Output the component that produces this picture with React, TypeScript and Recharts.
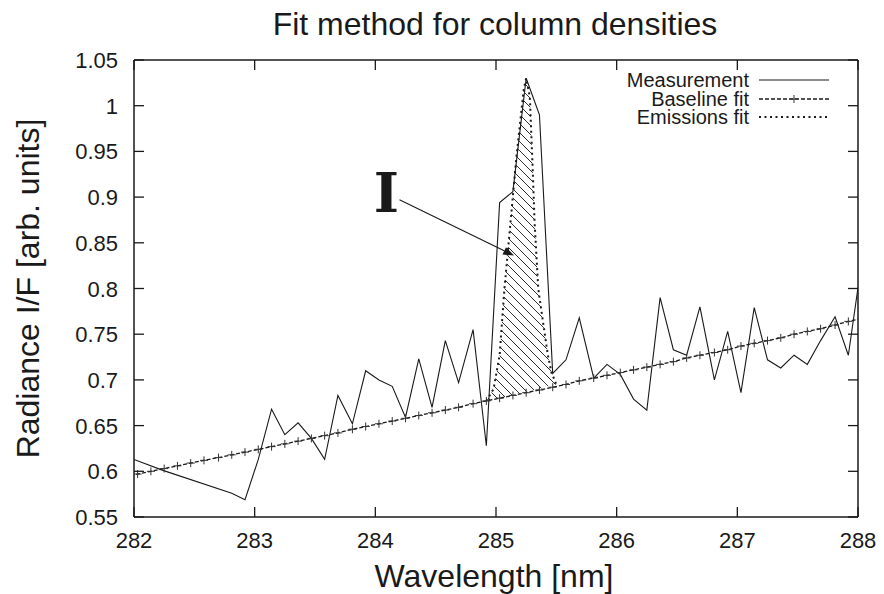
import { ComposedChart, Line, Area, XAxis, YAxis, Legend, ReferenceLine } from 'recharts'

const FONT = '"Liberation Sans", Arial, Helvetica, sans-serif'
const INK = '#1a1a1a'

const X_TICKS = [282, 283, 284, 285, 286, 287, 288]
const Y_TICKS = [0.55, 0.6, 0.65, 0.7, 0.75, 0.8, 0.85, 0.9, 0.95, 1, 1.05]

// measured spectrum
const MEAS_X = [
  282.0, 282.24, 282.81, 282.92, 283.03, 283.14, 283.25, 283.36, 283.47, 283.58,
  283.69, 283.81, 283.92, 284.03, 284.14, 284.25, 284.36, 284.47, 284.58, 284.69,
  284.81, 284.92, 285.03, 285.14, 285.25, 285.36, 285.47, 285.58, 285.69, 285.81,
  285.92, 286.03, 286.14, 286.25, 286.36, 286.47, 286.58, 286.69, 286.81, 286.92,
  287.03, 287.14, 287.25, 287.36, 287.47, 287.58, 287.69, 287.81, 287.92, 288.0,
]
const MEAS_Y = [
  0.613, 0.601, 0.576, 0.569, 0.613, 0.668, 0.64, 0.653, 0.636, 0.613,
  0.683, 0.652, 0.71, 0.7, 0.693, 0.659, 0.723, 0.67, 0.743, 0.697,
  0.755, 0.628, 0.894, 0.906, 1.03, 0.99, 0.707, 0.722, 0.768, 0.702,
  0.717, 0.706, 0.679, 0.667, 0.79, 0.733, 0.727, 0.78, 0.7, 0.753,
  0.686, 0.779, 0.722, 0.713, 0.727, 0.717, 0.743, 0.769, 0.727, 0.801,
]

// baseline fit, one marker per sample
const BASE_X = [
  281.92, 282.03, 282.14, 282.25, 282.36, 282.47, 282.58, 282.7, 282.81, 282.92,
  283.03, 283.14, 283.25, 283.36, 283.47, 283.58, 283.69, 283.81, 283.92, 284.03,
  284.14, 284.25, 284.36, 284.47, 284.58, 284.69, 284.81, 284.92, 285.03, 285.14,
  285.25, 285.36, 285.47, 285.58, 285.69, 285.81, 285.92, 286.03, 286.14, 286.25,
  286.36, 286.47, 286.58, 286.69, 286.81, 286.92, 287.03, 287.14, 287.25, 287.36,
  287.47, 287.58, 287.69, 287.81, 287.92, 288.03,
]
const BASE_Y = [
  0.594, 0.597, 0.6, 0.603, 0.606, 0.609, 0.612, 0.615, 0.618, 0.621,
  0.624, 0.627, 0.63, 0.633, 0.636, 0.639, 0.642, 0.646, 0.649, 0.652,
  0.655, 0.658, 0.661, 0.664, 0.667, 0.67, 0.674, 0.677, 0.68, 0.683,
  0.686, 0.689, 0.692, 0.695, 0.699, 0.702, 0.705, 0.708, 0.711, 0.714,
  0.717, 0.72, 0.724, 0.727, 0.73, 0.733, 0.737, 0.74, 0.743, 0.746,
  0.75, 0.753, 0.756, 0.76, 0.764, 0.767,
]

// emission peak fit and the baseline beneath it
const EMIS_X = [284.92, 284.98, 285.03, 285.07, 285.12, 285.17, 285.23, 285.25, 285.28, 285.3, 285.32, 285.35, 285.39, 285.43, 285.46, 285.5]
const EMIS_Y = [0.677, 0.69, 0.727, 0.8, 0.872, 0.945, 1.018, 1.03, 1.01, 0.945, 0.872, 0.8, 0.763, 0.727, 0.708, 0.695]
const EMIS_BASE = [0.677, 0.679, 0.68, 0.681, 0.683, 0.684, 0.686, 0.687, 0.688, 0.688, 0.689, 0.69, 0.691, 0.693, 0.694, 0.695]

const SERIES_NAMES = ['Measurement', 'Baseline fit', 'Emissions fit']
const ARROW_FROM = { x: 284.2, y: 0.897 }
const ARROW_TO = { x: 285.15, y: 0.836 }
const ARROW_LABEL = 'I'

const measurement = MEAS_X.map((x, i) => ({ x, y: MEAS_Y[i] }))
const baseline = BASE_X.map((x, i) => ({ x, y: BASE_Y[i] }))
const emissions = EMIS_X.map((x, i) => ({ x, y: EMIS_Y[i], band: [EMIS_BASE[i], EMIS_Y[i]] }))

const fmt = (v: number) => String(+v.toFixed(2))

function BottomTick({ x, y, payload }: any) {
  return (
    <g>
      <line x1={x} x2={x} y1={y} y2={y - 10} stroke={INK} strokeWidth={1.3} />
      <text x={x} y={y + 31} textAnchor="middle" fontSize={22} fontFamily={FONT} fill={INK}>{payload.value}</text>
    </g>
  )
}

function TopTick({ x, y }: any) {
  return <line x1={x} x2={x} y1={y} y2={y + 10} stroke={INK} strokeWidth={1.3} />
}

function LeftTick({ x, y, payload }: any) {
  return (
    <g>
      <line x1={x} x2={x + 10} y1={y} y2={y} stroke={INK} strokeWidth={1.3} />
      <text x={x - 16} y={y + 8} textAnchor="end" fontSize={22} fontFamily={FONT} fill={INK}>{fmt(payload.value)}</text>
    </g>
  )
}

function RightTick({ x, y }: any) {
  return <line x1={x} x2={x - 10} y1={y} y2={y} stroke={INK} strokeWidth={1.3} />
}

function Cross(p: any) {
  const { cx, cy, index } = p
  if (cx == null || cy == null) return <g key={index} />
  return <path key={index} d={`M${cx - 4},${cy}h8M${cx},${cy - 4}v8`} stroke="#333" strokeWidth={1} fill="none" />
}

function ArrowShape(p: any) {
  const { x1, y1, x2, y2 } = p
  if (x1 == null) return <g />
  const a = Math.atan2(y2 - y1, x2 - x1)
  const len = 11
  const half = 4
  const bx = x2 - len * Math.cos(a)
  const by = y2 - len * Math.sin(a)
  const nx = -Math.sin(a) * half
  const ny = Math.cos(a) * half
  return (
    <g>
      <line x1={x1} y1={y1} x2={bx} y2={by} stroke={INK} strokeWidth={1.1} />
      <polygon points={`${x2},${y2} ${bx + nx},${by + ny} ${bx - nx},${by - ny}`} fill={INK} />
      <text x={x1 - 13} y={y1 + 12} textAnchor="middle" fontSize={54} fontWeight="bold" fontFamily='"DejaVu Serif", serif' fill={INK}>{ARROW_LABEL}</text>
    </g>
  )
}

function sample(i: number) {
  if (i === 0) return <line x1={0} x2={70} y1={9} y2={9} stroke={INK} strokeWidth={1.1} />
  if (i === 1)
    return (
      <g>
        <line x1={0} x2={70} y1={9} y2={9} stroke={INK} strokeWidth={1.3} strokeDasharray="4 2" />
        <path d="M31,9h8M35,5v8" stroke="#333" strokeWidth={1} />
      </g>
    )
  return <line x1={0} x2={70} y1={9} y2={9} stroke={INK} strokeWidth={2} strokeDasharray="2 3.5" />
}

function KeyBox() {
  return (
    <div style={{ fontFamily: FONT, fontSize: 20, color: INK }}>
      {SERIES_NAMES.map((name, i) => (
        <div key={name} style={{ display: 'flex', justifyContent: 'flex-end', alignItems: 'center', height: 18.4 }}>
          <span style={{ lineHeight: '18px', whiteSpace: 'nowrap' }}>{name}</span>
          <svg width={70} height={18} style={{ marginLeft: 10, display: 'block' }}>{sample(i)}</svg>
        </div>
      ))}
    </div>
  )
}

const axisLine = { stroke: INK, strokeWidth: 1.5 }

export default function App() {
  return (
    <div style={{ position: 'absolute', left: 0, top: 0, width: 884, height: 594, background: '#fff' }}>
      <svg width={0} height={0} style={{ position: 'absolute' }}>
        <defs>
          <pattern id="hatch" width={9} height={9} patternUnits="userSpaceOnUse">
            <path d="M0,0L9,9M-1,8L1,10M8,-1L10,1" stroke={INK} strokeWidth={0.9} />
          </pattern>
        </defs>
      </svg>
      <ComposedChart width={884} height={594} margin={{ top: 59, right: 25, bottom: 0, left: 0 }}>
        <XAxis
          dataKey="x" type="number" domain={[282, 288]} ticks={X_TICKS} interval={0} allowDataOverflow
          height={77} axisLine={axisLine} tickLine={false} tickSize={0} tickMargin={0} tick={BottomTick}
          label={(p: any) => {
            const vb = p.viewBox ?? p
            return <text x={vb.x + vb.width / 2 - 2} y={vb.y + 70} textAnchor="middle" fontSize={32} fontFamily={FONT} fill={INK}>Wavelength [nm]</text>
          }}
        />
        <XAxis
          xAxisId="top" dataKey="x" orientation="top" type="number" domain={[282, 288]} ticks={X_TICKS} interval={0} allowDataOverflow
          height={1} axisLine={axisLine} tickLine={false} tickSize={0} tickMargin={0} tick={TopTick}
          label={(p: any) => {
            const vb = p.viewBox ?? p
            return <text x={vb.x + vb.width / 2 - 1} y={vb.y - 24} textAnchor="middle" fontSize={32} fontFamily={FONT} fill={INK}>Fit method for column densities</text>
          }}
        />
        <YAxis
          type="number" domain={[0.55, 1.05]} ticks={Y_TICKS} interval={0} allowDataOverflow
          width={134} axisLine={axisLine} tickLine={false} tickSize={0} tickMargin={0} tick={LeftTick}
          label={(p: any) => {
            const vb = p.viewBox ?? p
            const cx = vb.x + 39
            const cy = vb.y + vb.height / 2
            return <text x={cx} y={cy} transform={`rotate(-90 ${cx} ${cy})`} textAnchor="middle" fontSize={32} fontFamily={FONT} fill={INK}>Radiance I/F [arb. units]</text>
          }}
        />
        <YAxis
          yAxisId="right" orientation="right" type="number" domain={[0.55, 1.05]} ticks={Y_TICKS} interval={0} allowDataOverflow
          width={1} axisLine={axisLine} tickLine={false} tickSize={0} tickMargin={0} tick={RightTick}
        />
        <Area data={emissions} dataKey="band" type="linear" stroke="none" fill="url(#hatch)" fillOpacity={1} isAnimationActive={false} legendType="none" />
        <Line data={baseline} dataKey="y" name={SERIES_NAMES[1]} type="linear" stroke={INK} strokeWidth={1.3} strokeDasharray="4 2" dot={Cross} activeDot={false} isAnimationActive={false} />
        <Line data={emissions} dataKey="y" name={SERIES_NAMES[2]} type="linear" stroke={INK} strokeWidth={2} strokeDasharray="2 3.5" dot={false} activeDot={false} isAnimationActive={false} />
        <Line data={measurement} xAxisId="top" yAxisId="right" dataKey="y" name={SERIES_NAMES[0]} type="linear" stroke={INK} strokeWidth={1.1} dot={false} activeDot={false} isAnimationActive={false} />
        <ReferenceLine segment={[ARROW_FROM, ARROW_TO]} shape={ArrowShape} ifOverflow="visible" />
        <Legend content={KeyBox} layout="vertical" align="center" verticalAlign="middle" wrapperStyle={{ top: 71, left: 559, width: 270 }} />
      </ComposedChart>
    </div>
  )
}
